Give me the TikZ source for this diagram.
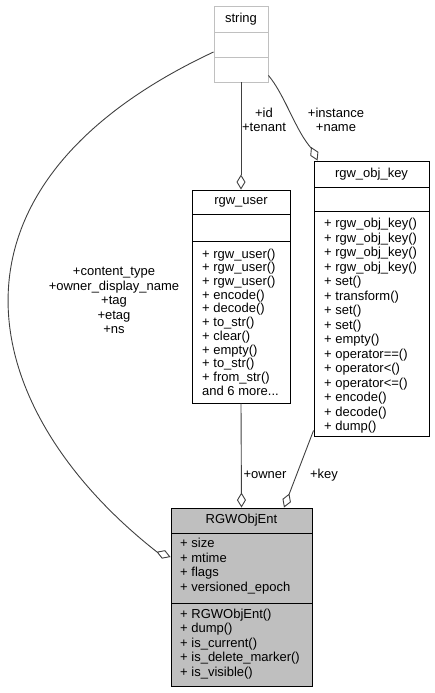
\documentclass[tikz,border=0pt]{standalone}
\usepackage{fontspec}
\setmainfont{Liberation Sans}
\usetikzlibrary{arrows.meta}
\definecolor{edgegray}{HTML}{404040}
\definecolor{boxgray}{HTML}{BFBFBF}
\definecolor{paleborder}{HTML}{C0C0C0}
\tikzset{
  uml/.style={draw=black, line width=0.9pt, rectangle, inner sep=0pt, fill=white},
  umlpale/.style={uml, draw=paleborder},
  umlfocus/.style={uml, fill=boxgray},
  divider/.style={line width=0.9pt},
  title/.style={inner sep=0pt, font=\fontsize{13}{14.5}\selectfont},
  members/.style={anchor=west, align=left, inner sep=0pt, font=\fontsize{13}{#1}\selectfont},
  members/.default=14.5,
  rolelabel/.style={align=center, inner sep=0pt, font=\fontsize{13}{14.6}\selectfont},
  conn/.style={draw=edgegray, line width=0.9pt,
    -{Diamond[length=15pt,width=9pt,fill=white]}},
}
\begin{document}
\begin{tikzpicture}[x=1pt, y=-1pt]
\useasboundingbox (0,0) rectangle (435,693);

% class: string
\node[umlpale, minimum width=54pt, minimum height=76pt] (str) at (241,44) {};
\draw[divider, paleborder] (214,32) -- (268,32);
\draw[divider, paleborder] (214,57) -- (268,57);
\node[title] (strT) at (241,19) {string};

% class: rgw_user
\node[uml, minimum width=98pt, minimum height=213pt] (usr) at (241,296.5) {};
\draw[divider] (192,214) -- (290,214);
\draw[divider] (192,241) -- (290,241);
\node[title] (usrT) at (241,202) {rgw\_user};
\node[members=13.7] (usrM) at (202,322) {+ rgw\_user()\\+ rgw\_user()\\+ rgw\_user()\\+ encode()\\+ decode()\\+ to\_str()\\+ clear()\\+ empty()\\+ to\_str()\\+ from\_str()\\and 6 more...};

% class: rgw_obj_key
\node[uml, minimum width=115pt, minimum height=275pt] (key) at (371.5,298.5) {};
\draw[divider] (314,187) -- (429,187);
\draw[divider] (314,211) -- (429,211);
\node[title] (keyT) at (371.5,174) {rgw\_obj\_key};
\node[members] (keyM) at (324,326) {+ rgw\_obj\_key()\\+ rgw\_obj\_key()\\+ rgw\_obj\_key()\\+ rgw\_obj\_key()\\+ set()\\+ transform()\\+ set()\\+ set()\\+ empty()\\+ operator==()\\+ operator<()\\+ operator<=()\\+ encode()\\+ decode()\\+ dump()};

% class: RGWObjEnt
\node[umlfocus, minimum width=141pt, minimum height=178pt] (ent) at (241.5,597) {};
\draw[divider] (171,533) -- (312,533);
\draw[divider] (171,603) -- (312,603);
\node[title] (entT) at (241.5,520.5) {RGWObjEnt};
\node[members] (entA) at (180,566) {+ size\\+ mtime\\+ flags\\+ versioned\_epoch};
\node[members] (entM) at (180,644) {+ RGWObjEnt()\\+ dump()\\+ is\_current()\\+ is\_delete\_marker()\\+ is\_visible()};

% associations
\draw[conn] (str.south) -- (usr.north);
\node[rolelabel] (lblUsr) at (264,120) {+id\\+tenant};

\coordinate (keyTail) at (312,149);
\draw[conn] ([yshift=7pt]str.south east) .. controls (285,95) and (296,132) .. (keyTail) -- ([xshift=4pt]key.north west);
\node[rolelabel] (lblKey) at (336,120) {+instance\\+name};

\coordinate (entTail) at (157,552);
\draw[conn] ([yshift=-8pt]str.west) .. controls (-77,188) and (-25,409) .. (entTail) -- ([yshift=40pt]ent.west);
\node[rolelabel] (lblStr) at (114,300.5) {+content\_type\\+owner\_display\_name\\+tag\\+etag\\+ns};

\draw[conn] (usr.south) -- (ent.north);
\node[rolelabel] (lblOwner) at (265,475) {+owner};

\draw[conn] ([yshift=6pt]key.south west) -- ([xshift=42.5pt]ent.north);
\node[rolelabel] (lblK) at (324,475) {+key};
\end{tikzpicture}
\end{document}
